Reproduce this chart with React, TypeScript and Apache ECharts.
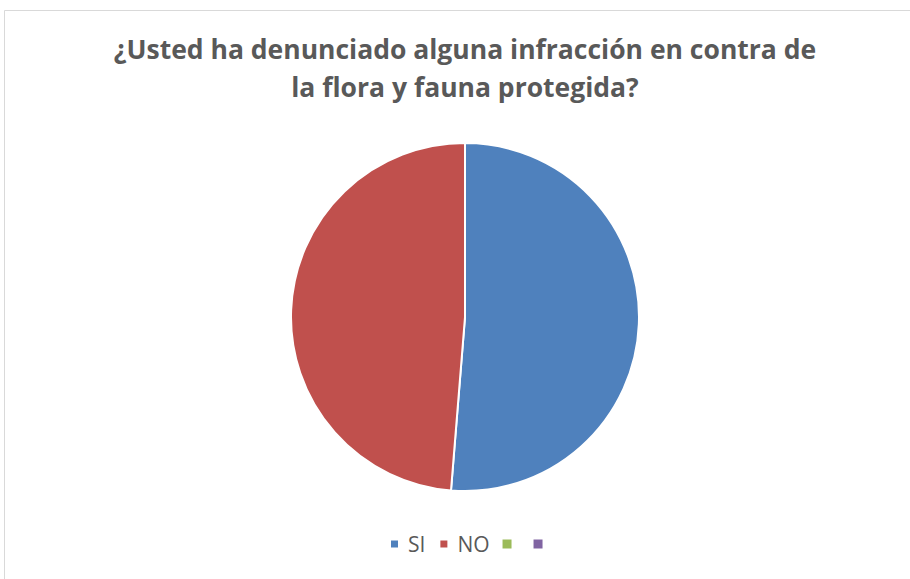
import React, { useEffect, useRef } from "react";
import * as echarts from "echarts";

const titleLines = ["¿Usted ha denunciado alguna infracción en contra de", "la flora y fauna protegida?"];
const categories = ["SI", "NO", " ", "  "];
const values = [20, 19, 0, 0];
const colors = ["#4F81BD", "#C0504D", "#9BBB59", "#8064A2"];

export default function App() {
  const ref = useRef<HTMLDivElement>(null);
  useEffect(() => {
    document.body.style.margin = "0";
    const chart = echarts.init(ref.current!, null, { renderer: "svg" });
    chart.setOption({
      animation: false,
      backgroundColor: "#ffffff",
      title: {
        text: titleLines.join("\n"),
        left: 460,
        textAlign: "center",
        top: 25,
        textStyle: {
          fontFamily: "Open Sans",
          fontSize: 26.5,
          fontWeight: "bold",
          color: "#595959",
          lineHeight: 38,
        },
      },
      legend: {
        top: 533,
        left: 389,
        padding: 0,
        itemWidth: 9,
        itemHeight: 9,
        itemGap: 13,
        icon: "rect",
        data: categories,
        formatter: (name: string) => name.trim(),
        textStyle: {
          fontFamily: "Open Sans",
          fontSize: 21,
          color: "#595959",
          padding: [0, 0, 0, 4],
          lineHeight: 22,
        },
      },
      graphic: [
        {
          type: "rect",
          shape: { x: 4.5, y: 10.5, width: 1000, height: 1000 },
          style: { fill: "none", stroke: "#D9D9D9", lineWidth: 1 },
          silent: true,
        },
      ],
      series: [
        {
          type: "pie",
          center: [465, 317],
          radius: [0, 174],
          startAngle: 90,
          clockwise: true,
          label: { show: false },
          labelLine: { show: false },
          emphasis: { disabled: true },
          itemStyle: { borderColor: "#ffffff", borderWidth: 2 },
          data: categories.map((name, i) => ({
            name,
            value: values[i],
            itemStyle: { color: colors[i], borderWidth: values[i] === 0 ? 0 : 2 },
          })),
        },
      ],
    });
    return () => chart.dispose();
  }, []);
  return <div ref={ref} style={{ width: 910, height: 579 }} />;
}
